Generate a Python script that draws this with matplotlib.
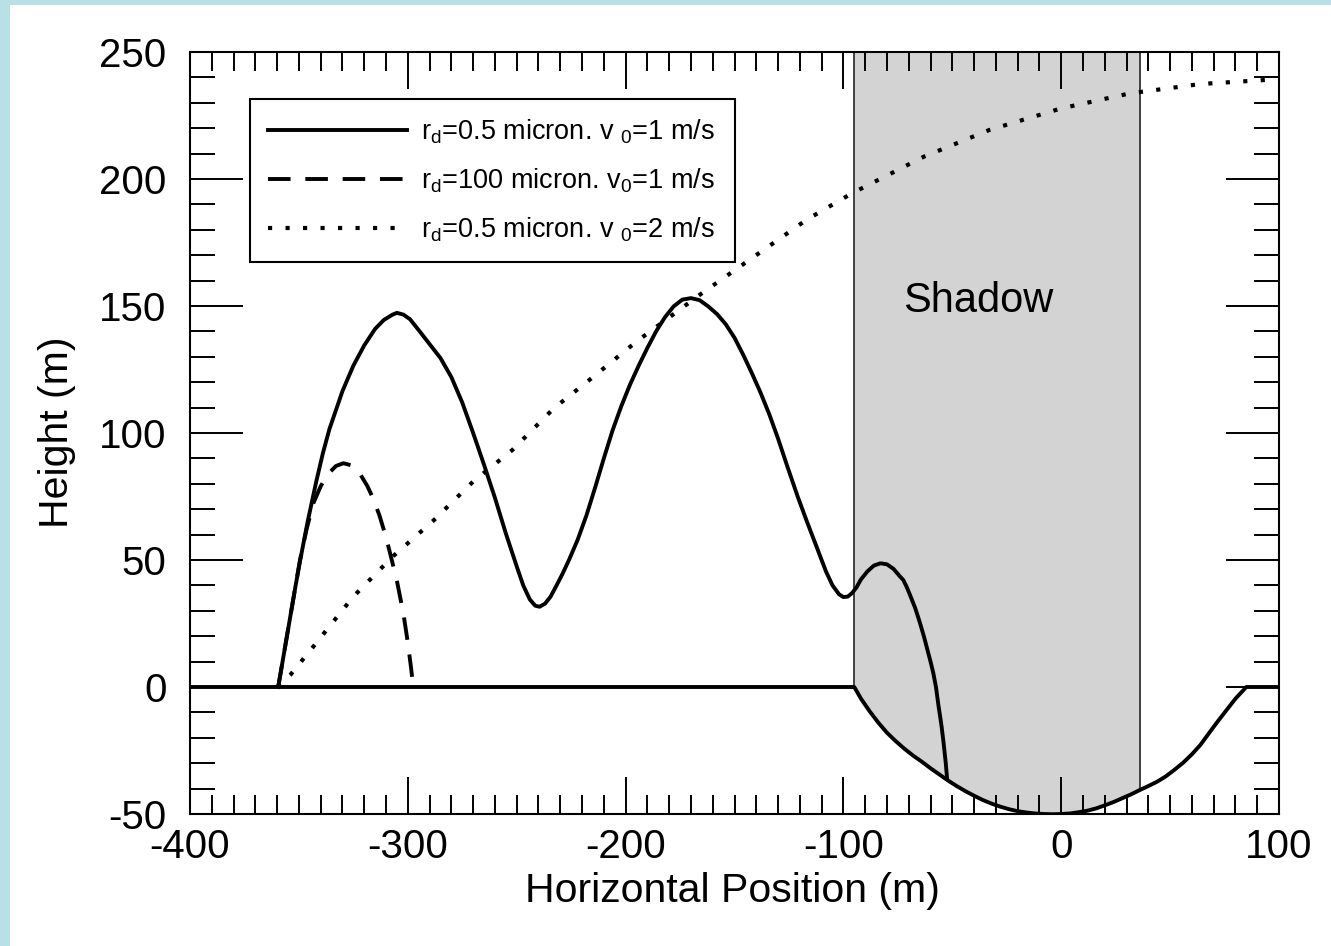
import matplotlib
matplotlib.use('Agg')
import matplotlib.pyplot as plt
from matplotlib.patches import Rectangle
from matplotlib.ticker import MultipleLocator

# ---------------- data ----------------
solid_x = [-359.5, -357, -354, -351.5, -349.5, -346, -342, -339, -336, -333, -330, -325,
           -320, -315, -311, -307, -305, -302, -299, -295, -290, -285, -280, -275, -270,
           -265, -260, -255, -250, -247, -244, -241.5, -239.5, -237, -234.5, -232, -229,
           -226, -222, -218, -214, -210, -206, -202, -198, -194, -190, -186, -182,
           -178, -174, -170, -166, -162, -158, -154, -150, -146, -142, -138, -134,
           -130, -126, -121, -117, -112, -108, -105, -102, -100, -98, -96, -94,
           -92, -89, -86, -83, -80, -77, -74.5, -72.5, -71, -69.4, -67, -64.8,
           -63, -61.8, -60, -58.7, -57.5, -56.4, -55, -54, -53, -52.4]
solid_y = [0, 12.5, 27.5, 40, 49.5, 65, 81, 92, 101.5, 109, 116.5, 126.5,
           134.5, 141, 144.5, 146.6, 147.3, 146.6, 144.8, 140.5, 135, 129.5, 122, 112, 100,
           87.5, 74.5, 60.5, 47.5, 40, 34.5, 32, 31.6, 32.8, 35.5, 39.5, 44.5,
           50, 58, 67.5, 78.5, 90, 101, 110.5, 119, 126.5, 133.5, 140, 145.5,
           149.8, 152.5, 153.1, 152.3, 149.8, 146.8, 142.8, 137.5, 130.8, 123.5, 115.8, 107.3,
           97.8, 87.5, 75, 65.7, 54.5, 45.5, 40, 36.5, 35.4, 35.6, 37, 39.2,
           42.3, 45.5, 47.8, 48.7, 48.3, 46.5, 44, 42.1, 39.5, 36.2, 31, 25.1,
           19.8, 15.9, 10, 5.4, 0, -7, -15, -22, -30, -36]

dashed_x = [-359.5, -357, -354, -351.5, -349.5, -346.5, -343.4, -340, -337, -333, -329.6,
            -326, -322, -318.5, -315.8, -313, -310, -307.5, -305, -302, -300, -298.5, -297.5]
dashed_y = [0, 12.5, 27.5, 40, 50, 62, 72.3, 79, 83.5, 87, 88.1,
            87.3, 84, 79, 74, 67.5, 59, 50.5, 41.8, 28.8, 17.5, 7.5, 0]

dotted_x = [-360, -354, -343, -325, -307, -288, -270, -252, -233, -215, -195, -165,
            -117, -96, -63, -33, 0, 31.5, 64, 94, 100]
dotted_y = [0, 4.7, 16.3, 35.6, 51.3, 65.7, 80.9, 93.3, 109.7, 122.0, 136.0, 155.0,
            183.9, 194.4, 208.8, 219.3, 227.8, 233.7, 237.4, 239.0, 239.3]

surface_x = [-400, -95, -92, -88, -84, -80, -76, -72, -68, -64, -60, -56, -52, -48, -44,
             -40, -36, -32, -28, -24, -20, -16, -12, -8, -4, 0, 4, 8, 12, 16, 20, 24,
             28, 32, 36, 40, 44, 48, 52, 56, 60, 64, 68, 72, 76, 80, 85, 100]
surface_y = [0, 0, -4.5, -9.5, -14, -18, -21.3, -24.3, -27.0, -29.4, -32, -34.4, -36.8,
             -39, -41, -42.8, -44.5, -45.9, -47.1, -48.1, -48.9, -49.4, -49.8, -50, -50.1,
             -50, -49.8, -49.3, -48.7, -47.8, -46.6, -45.3, -43.8, -42.3, -40.6, -39.0,
             -37.3, -35.2, -32.6, -29.8, -26.5, -22.7, -18.0, -13.4, -9.0, -4.6, 0, 0]

shadow_left = -95
shadow_right = 36
shadow_label_x = -38
shadow_label_y = 152

labels = [r'r$_\mathregular{d}$=0.5 micron. v $_\mathregular{0}$=1 m/s',
          r'r$_\mathregular{d}$=100 micron. v$_\mathregular{0}$=1 m/s',
          r'r$_\mathregular{d}$=0.5 micron. v $_\mathregular{0}$=2 m/s']

x_ticks = [-400, -300, -200, -100, 0, 100]
y_ticks = [-50, 0, 50, 100, 150, 200, 250]

# ---------------- style ----------------
fam = 'Liberation Sans'
fs_tick, fs_label, fs_leg, fs_shadow = 29, 29.5, 19.5, 30
plt.rcParams['font.family'] = [fam, 'DejaVu Sans']
plt.rcParams['axes.unicode_minus'] = False

W, H = 1331, 946
fig = plt.figure(figsize=(W / 100, H / 100), dpi=100)
fig.patch.set_facecolor('white')
fig.patches.append(Rectangle((0, 0), 10 / W, 1, transform=fig.transFigure,
                             facecolor='#b9e0e4', edgecolor='none', zorder=0))
fig.patches.append(Rectangle((0, 1 - 5 / H), 1, 5 / H, transform=fig.transFigure,
                             facecolor='#b9e0e4', edgecolor='none', zorder=0))

ax = fig.add_axes([190 / W, 1 - 814 / H, (1279 - 190) / W, (814 - 52) / H])
ax.set_xlim(-400, 100)
ax.set_ylim(-50, 250)

# shadow region (above the surface)
sx = [x for x in surface_x if shadow_left <= x <= shadow_right]
sy = [y for x, y in zip(surface_x, surface_y) if shadow_left <= x <= shadow_right]
ax.fill_between(sx, sy, 250, color='#d3d3d3', lw=0, zorder=1)
ax.vlines([shadow_left], 0, 250, color='#333333', lw=1.3, zorder=2)
ax.vlines([shadow_right], sy[-1], 250, color='#333333', lw=1.3, zorder=2)
ax.text(shadow_label_x, shadow_label_y, 'Shadow', ha='center', va='center',
        fontsize=fs_shadow, zorder=3)

ax.plot(surface_x, surface_y, color='black', lw=2.8, zorder=4, label='_nolegend_',
        solid_joinstyle='round')
l1, = ax.plot(solid_x, solid_y, color='black', lw=2.8, zorder=5, solid_joinstyle='round')
l2, = ax.plot(dashed_x, dashed_y, color='black', lw=2.8, dashes=(5.8, 3.8), zorder=5)
l3, = ax.plot(dotted_x, dotted_y, color='black', lw=3.0, dashes=(1.0, 3.2), zorder=5)

leg = ax.legend([l1, l2, l3], labels, loc='upper left',
                bbox_to_anchor=(60 / 1089, (814 - 262) / 762, 485 / 1089, 163 / 762),
                mode='expand', borderaxespad=0, fontsize=fs_leg, frameon=True,
                fancybox=False, framealpha=1, edgecolor='black',
                handlelength=5.1, handletextpad=0.55, borderpad=0.68, labelspacing=0.75)
leg.get_frame().set_linewidth(1.5)
leg.set_zorder(6)

ax.set_xticks(x_ticks)
ax.set_yticks(y_ticks)
ax.set_xticklabels([str(v) for v in x_ticks])
ax.set_yticklabels([str(v) for v in y_ticks])
ax.xaxis.set_minor_locator(MultipleLocator(10))
ax.yaxis.set_minor_locator(MultipleLocator(10))
ax.tick_params(axis='x', which='major', direction='in', length=26.5, width=1.4,
               top=True, bottom=True, labelsize=fs_tick, pad=10)
ax.tick_params(axis='x', which='minor', direction='in', length=13.5, width=1.4,
               top=True, bottom=True)
ax.tick_params(axis='y', which='major', direction='in', length=38, width=1.4,
               left=True, right=True, labelsize=fs_tick, pad=17)
ax.tick_params(axis='y', which='minor', direction='in', length=18, width=1.4,
               left=True, right=True)
for s in ax.spines.values():
    s.set_linewidth(1.5)

ax.set_xlabel('Horizontal Position (m)', fontsize=fs_label)
ax.set_ylabel('Height (m)', fontsize=fs_label)
ax.xaxis.set_label_coords((732 - 190) / 1089, (814 - 872) / 762)
ax.yaxis.set_label_coords((76 - 190) / 1089, (814 - 432) / 762)

fig.savefig('out.png', dpi=100)
